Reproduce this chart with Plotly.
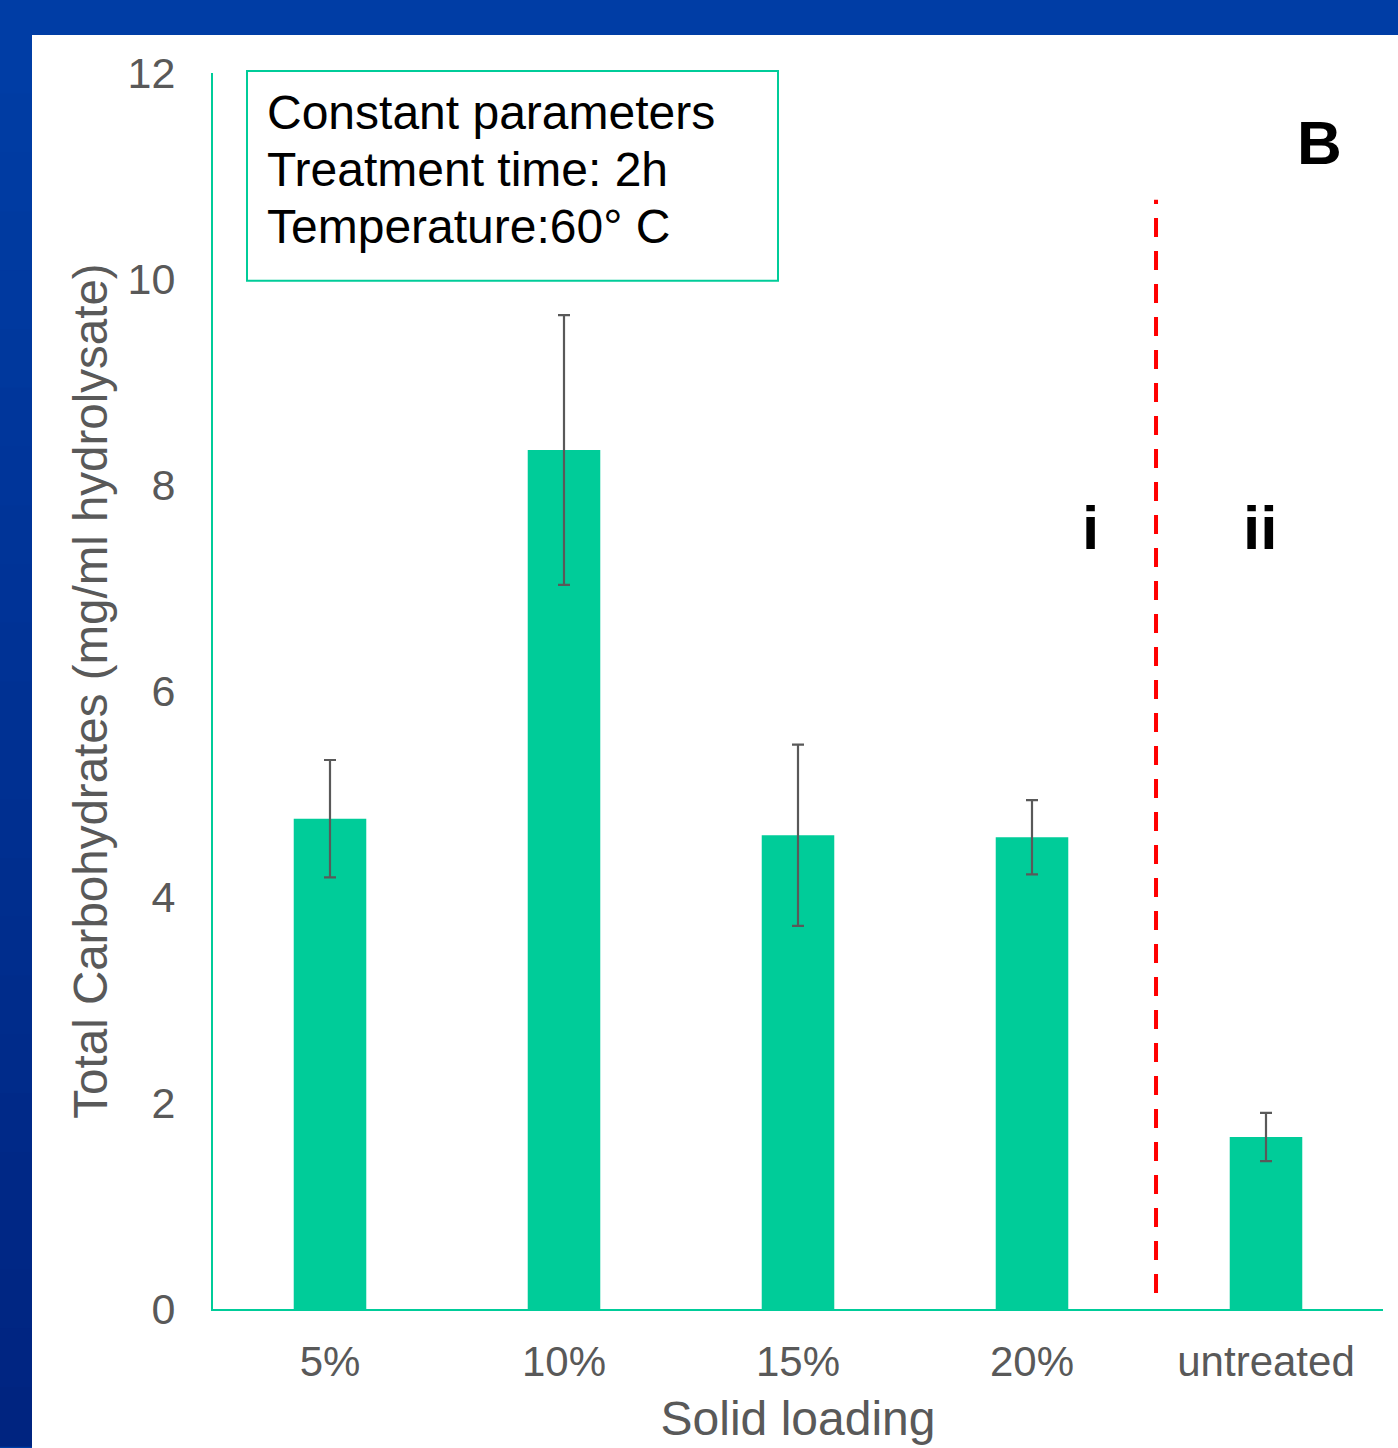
import plotly.graph_objects as go

# Data
categories = ["5%", "10%", "15%", "20%", "untreated"]
carbohydrates = [4.76, 8.34, 4.60, 4.58, 1.67]
errors = [0.57, 1.31, 0.88, 0.36, 0.235]
y_ticks = [0, 2, 4, 6, 8, 10, 12]

FONT = "Arial, Liberation Sans, sans-serif"
TEAL = "#00CC99"
GREY = "#595959"

W, H = 1398, 1448
L, R, T, B = 213, 15, 73, 137
PW, PH = W - L - R, H - T - B


def px(xp):
    return (xp - L) / PW


def py(yp):
    return (H - B - yp) / PH


fig = go.Figure()
fig.add_trace(go.Bar(
    x=categories,
    y=carbohydrates,
    width=0.31,
    marker=dict(color=TEAL, line=dict(width=0)),
    error_y=dict(type="data", array=errors, visible=True,
                 color=GREY, thickness=2.2, width=6),
    showlegend=False,
))

shapes = []
# white panel on blue background
shapes.append(dict(type="rect", xref="paper", yref="paper", layer="below",
                   x0=px(32), x1=px(W + 5), y0=py(H + 5), y1=py(35),
                   fillcolor="white", line=dict(width=0)))
# darker blue gradient along the left strip
n = 24
top_rgb = (0, 61, 165)
bot_rgb = (0, 36, 128)
for i in range(n):
    t = i / (n - 1)
    c = tuple(round(a + (b - a) * t) for a, b in zip(top_rgb, bot_rgb))
    y_top = 35 + (H - 35) * i / n
    y_bot = 35 + (H - 35) * (i + 1) / n
    shapes.append(dict(type="rect", xref="paper", yref="paper", layer="below",
                       x0=px(-2), x1=px(32), y0=py(y_bot + 1), y1=py(y_top),
                       fillcolor="rgb(%d,%d,%d)" % c, line=dict(width=0)))
# parameters box
shapes.append(dict(type="rect", xref="paper", yref="paper",
                   x0=px(247), x1=px(778), y0=py(281), y1=py(71),
                   fillcolor="rgba(0,0,0,0)", line=dict(color=TEAL, width=2)))
# separator between treated and untreated groups
shapes.append(dict(type="line", xref="x", yref="paper",
                   x0=3.53, x1=3.53, y0=py(1295), y1=py(200),
                   line=dict(color="#FF0000", width=4, dash="19px,14px")))

annotations = []
box_lines = ["Constant parameters", "Treatment time: 2h", "Temperature:60° C"]
for i, line in enumerate(box_lines):
    annotations.append(dict(text=line, xref="paper", yref="paper",
                            x=px(265), y=py(113 + 57 * i),
                            xanchor="left", yanchor="middle", showarrow=False,
                            font=dict(family=FONT, size=48, color="black")))
annotations.append(dict(text="<b>B</b>", xref="paper", yref="paper",
                        x=px(1319), y=py(143), xanchor="center", yanchor="middle",
                        showarrow=False,
                        font=dict(family=FONT, size=62, color="black")))
annotations.append(dict(text="<b>i</b>", xref="paper", yref="paper",
                        x=px(1090), y=py(528), xanchor="center", yanchor="middle",
                        showarrow=False,
                        font=dict(family=FONT, size=62, color="black")))
annotations.append(dict(text="<b>ii</b>", xref="paper", yref="paper",
                        x=px(1260), y=py(528), xanchor="center", yanchor="middle",
                        showarrow=False,
                        font=dict(family=FONT, size=62, color="black")))

fig.update_layout(
    width=W, height=H,
    margin=dict(l=L, r=R, t=T, b=B, pad=0),
    paper_bgcolor="#003DA5",
    plot_bgcolor="rgba(0,0,0,0)",
    font=dict(family=FONT, color=GREY),
    shapes=shapes,
    annotations=annotations,
    bargap=0.69,
    xaxis=dict(
        showline=True, linecolor=TEAL, linewidth=2,
        showgrid=False, zeroline=False, ticks="",
        tickfont=dict(family=FONT, size=42, color=GREY),
        ticklabelstandoff=15,
        title=dict(text="Solid loading", standoff=17,
                   font=dict(family=FONT, size=48, color=GREY)),
    ),
    yaxis=dict(
        range=[0, 12], tickvals=y_ticks,
        showline=True, linecolor=TEAL, linewidth=2,
        showgrid=False, zeroline=False, ticks="",
        tickfont=dict(family=FONT, size=43, color=GREY),
        ticklabelstandoff=27,
        title=dict(text="Total Carbohydrates (mg/ml hydrolysate)", standoff=5,
                   font=dict(family=FONT, size=47.5, color=GREY)),
    ),
)

fig.write_html("out.html")
